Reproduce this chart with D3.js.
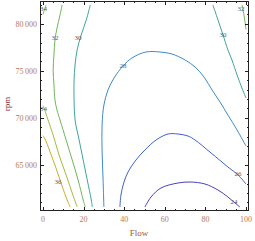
<!DOCTYPE html>
<html>
<head>
    <meta http-equiv="Content-Type" content="text/html;charset=utf8" />
    <title>Flow / rpm contours</title>
    <script src="https://d3js.org/d3.v7.min.js"></script>
    <style>
        body { margin: 0; background: #fff; }
        svg text { font-family: "Liberation Serif", "DejaVu Serif", serif; }
    </style>
</head>
<body>
<div id="chart"></div>
<script>
    // contour levels and line colours
    var levels = [24, 26, 28, 30, 32, 34, 36];
    var levelColors = ["#4a3fc0", "#3d63d2", "#3f8ac8", "#3ea59a", "#70b65a", "#a7ba3c", "#c9ad2c"];

    // contour lines: [flow, rpm]
    var c24 = [[50.2,60500],[53.2,61564],[58.1,62522],[66.5,63054],[72.4,63160],[79.8,62947],[86.2,62308],[91.1,61564],[94.6,60925],[97.0,60500]];
    var c26 = [[37.9,60500],[38.4,61777],[39.9,63160],[41.9,64224],[45.8,65502],[50.2,66566],[55.7,67630],[61.6,68269],[66.5,68269],[71.4,68056],[74.9,67630],[82.8,66247],[91.1,64757],[96.1,63905],[100,62947]];
    var c28 = [[30.0,60500],[29.6,63373],[29.1,66566],[29.1,69227],[30.0,71356],[32.0,72953],[35.0,74230],[39.4,75507],[43.8,76359],[50.7,76997],[57.6,76997],[63.5,76784],[70.0,76146],[74.9,75401],[79.3,74336],[83.3,72953],[87.2,71675],[91.1,70292],[95.6,68695],[100,66992]];
    var c30a = [[23.3,82000],[21.3,80403],[18.8,78807],[16.8,77210],[15.8,75614],[15.3,74017],[15.3,71888],[15.8,69759],[17.8,67630],[19.8,65502],[21.8,63373],[23.8,61244],[24.3,60500]];
    var c30b = [[83.7,82000],[86.2,80403],[88.7,78807],[91.1,77210],[93.1,76146],[95.6,74549],[98.0,73166],[100,72100]];
    var c32a = [[9.4,82000],[8.4,80936],[6.9,79552],[5.9,78275],[5.4,76678],[5.0,75081],[5.4,73485],[5.9,71888],[6.9,70824],[8.4,69759],[11.4,67630],[14.4,65502],[17.3,63373],[19.8,61244],[20.8,60500]];
    var c32b = [[98.0,82000],[99.0,80936],[100,79400]];
    var c34a = [[0,71300],[0.5,71037],[2.5,69759],[5.0,68163],[7.9,66034],[11.4,63905],[14.4,61989],[16.8,60500]];
    var c34b = [[0,81000],[1.5,82000]];
    var c36 = [[0,68100],[1.0,67737],[3.5,66353],[6.4,64651],[9.4,62734],[11.9,61244],[13.4,60500]];

    var contourLines = [
        {level: 24, pts: c24}, {level: 26, pts: c26}, {level: 28, pts: c28},
        {level: 30, pts: c30a}, {level: 30, pts: c30b},
        {level: 32, pts: c32a}, {level: 32, pts: c32b},
        {level: 34, pts: c34a}, {level: 34, pts: c34b},
        {level: 36, pts: c36}
    ];

    // contour labels: [flow, rpm, level]
    var contourLabels = [[94.1,61031,24],[96.1,64012,26],[39.4,75507,28],[17.3,78487,30],[88.7,78807,30],
                         [5.9,78487,32],[97.5,81600,32],[0.3,81600,34],[0.2,71000,34],[7.4,63160,36]];

    var xTicks = [0, 20, 40, 60, 80, 100];
    var yTicks = [65000, 70000, 75000, 80000];

    var W = 255, H = 241;
    var x = d3.scaleLinear().domain([0, 100]).range([43, 246]);
    var y = d3.scaleLinear().domain([60500, 82000]).range([207, 5]);
    var fx0 = 40, fx1 = 249, fy0 = 1, fy1 = 211;

    var svg = d3.select("#chart").append("svg").attr("width", W).attr("height", H);

    svg.append("clipPath").attr("id", "clip").append("rect")
        .attr("x", fx0).attr("y", fy0).attr("width", fx1 - fx0).attr("height", fy1 - fy0);

    var line = d3.line()
        .x(function(d) { return x(d[0]); })
        .y(function(d) { return y(d[1]); })
        .curve(d3.curveCatmullRom.alpha(0.5));

    var color = d3.scaleOrdinal().domain(levels).range(levelColors);

    svg.append("g").attr("clip-path", "url(#clip)")
        .selectAll("path").data(contourLines).enter().append("path")
        .attr("d", function(d) { return line(d.pts); })
        .attr("fill", "none")
        .attr("stroke", function(d) { return color(d.level); })
        .attr("stroke-width", 1);

    svg.append("g").selectAll("text").data(contourLabels).enter().append("text")
        .attr("x", function(d) { return x(d[0]); })
        .attr("y", function(d) { return y(d[1]); })
        .attr("dy", "0.35em")
        .attr("text-anchor", "middle")
        .attr("font-size", 7)
        .attr("fill", "#5a5a6a")
        .text(function(d) { return d[2]; });

    // frame
    svg.append("rect")
        .attr("x", fx0 + 0.5).attr("y", fy0 + 0.5)
        .attr("width", fx1 - fx0 - 1).attr("height", fy1 - fy0 - 1)
        .attr("fill", "none").attr("stroke", "#222").attr("stroke-width", 1);

    // ticks on all four sides, pointing inward
    var ticks = svg.append("g").attr("stroke", "#222").attr("stroke-width", 1);
    d3.range(0, 101, 5).forEach(function(v) {
        var len = v % 20 === 0 ? 4 : 2;
        var px = Math.round(x(v)) + 0.5;
        ticks.append("line").attr("x1", px).attr("x2", px).attr("y1", fy1).attr("y2", fy1 - len);
        ticks.append("line").attr("x1", px).attr("x2", px).attr("y1", fy0).attr("y2", fy0 + len);
    });
    d3.range(61000, 82001, 1000).forEach(function(v) {
        var len = v % 5000 === 0 ? 4 : 2;
        var py = Math.round(y(v)) + 0.5;
        ticks.append("line").attr("x1", fx0).attr("x2", fx0 + len).attr("y1", py).attr("y2", py);
        ticks.append("line").attr("x1", fx1).attr("x2", fx1 - len).attr("y1", py).attr("y2", py);
    });

    var fmt = function(v) { return d3.format(",")(v).replace(",", "\u2009"); };

    svg.append("g").selectAll("text").data(xTicks).enter().append("text")
        .attr("x", function(d) { return x(d); })
        .attr("y", 222)
        .attr("text-anchor", "middle")
        .attr("font-size", 8)
        .attr("fill", "#b87a52")
        .text(function(d) { return d; });

    svg.append("g").selectAll("text").data(yTicks).enter().append("text")
        .attr("x", 37)
        .attr("y", function(d) { return y(d); })
        .attr("dy", "0.35em")
        .attr("text-anchor", "end")
        .attr("font-size", 8)
        .attr("fill", "#b87a52")
        .text(fmt);

    svg.append("text")
        .attr("x", 139).attr("y", 236)
        .attr("text-anchor", "middle")
        .attr("font-size", 9)
        .attr("fill", "#a0583a")
        .text("Flow");

    svg.append("text")
        .attr("transform", "translate(10,104) rotate(-90)")
        .attr("text-anchor", "middle")
        .attr("font-size", 9)
        .attr("fill", "#8a2f2f")
        .text("rpm");
</script>
</body>
</html>
